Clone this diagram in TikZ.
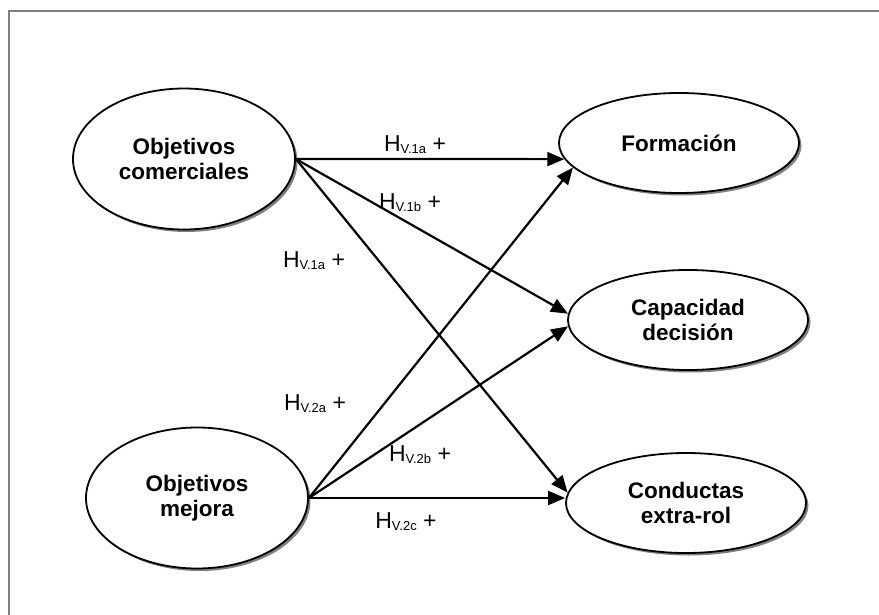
\documentclass[tikz,border=0pt]{standalone}
\usepackage{fontspec}
\setmainfont{Liberation Sans}
\usetikzlibrary{shapes.geometric, arrows.meta, shadows}
\newcommand{\hlab}[1]{H\raisebox{-2pt}{\fontsize{13}{13}\selectfont #1}\ +}

\begin{document}
\begin{tikzpicture}[x=1pt, y=-1pt,
  var/.style={ellipse, draw, line width=1.8pt, fill=white, minimum width=240pt, minimum height=100pt, inner sep=0pt, align=center, font=\fontsize{22.5}{25}\selectfont\bfseries, drop shadow={shadow xshift=2.5pt, shadow yshift=-2.5pt, opacity=1, fill=gray}},
  src/.style={var, minimum width=222pt, minimum height=141pt},
  hip/.style={font=\fontsize{23}{23}\selectfont, inner sep=0pt},
  arr/.style={-{Triangle[length=17pt, width=14pt]}, line width=2.2pt}]
\useasboundingbox (0,0) rectangle (879,615);
\draw[gray, line width=2pt] (8.5,615) |- (879,11);
% variables
\node[src] (oc) at (184,159) {Objetivos\\comerciales};
\node[src] (om) at (197,498) {Objetivos\\mejora};
\node[var] (f) at (679,143) {Formación};
\node[var] (cap) at (688,320) {Capacidad\\decisión};
\node[var] (ce) at (686,503) {Conductas\\extra-rol};
% hipotesis
\draw[arr] (oc.east) -- (f.188);
\draw[arr] (oc.east) -- (cap.177);
\draw[arr] (oc.east) -- (ce.175);
\draw[arr] (om.east) -- (f.193);
\draw[arr] (om.east) -- (cap.183);
\draw[arr] (om.east) -- (om.east -| ce.west);
\node[hip] (h1a) at (415,145) {\hlab{V.1a}};
\node[hip] (h1b) at (410,203) {\hlab{V.1b}};
\node[hip] (h1c) at (314,261) {\hlab{V.1a}};
\node[hip] (h2a) at (315,404) {\hlab{V.2a}};
\node[hip] (h2b) at (420,455) {\hlab{V.2b}};
\node[hip] (h2c) at (406,522) {\hlab{V.2c}};
\end{tikzpicture}
\end{document}
